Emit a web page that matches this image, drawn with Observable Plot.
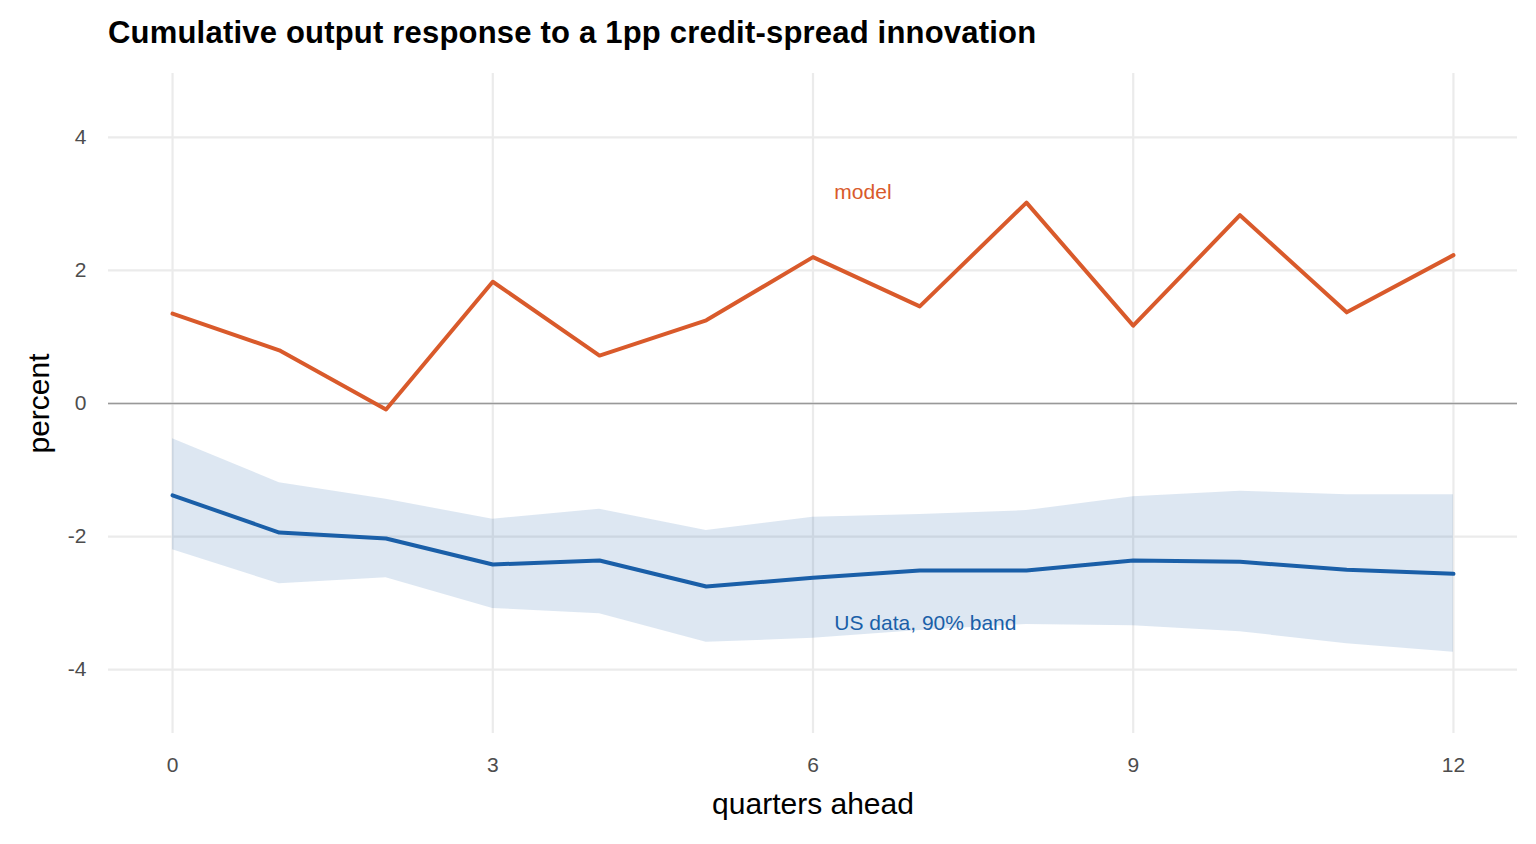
<!DOCTYPE html>
<html><head><meta charset="utf-8">
<script src="https://cdn.jsdelivr.net/npm/d3@7"></script>
<script src="https://cdn.jsdelivr.net/npm/@observablehq/plot@0.6"></script>
<style>
body{margin:0;background:#fff;font-family:"Liberation Sans",Arial,sans-serif}
#title{height:70px;box-sizing:border-box;padding:15px 0 0 108px;font-size:31px;font-weight:bold;color:#000;letter-spacing:0.2px;white-space:nowrap}
</style></head><body>
<div id="title">Cumulative output response to a 1pp credit-spread innovation</div>
<div id="chart"></div>
<script>
const quarters = [0,1,2,3,4,5,6,7,8,9,10,11,12];
const model = [1.35,0.80,-0.09,1.83,0.72,1.25,2.20,1.46,3.02,1.17,2.83,1.37,2.23];
const usData = [-1.38,-1.94,-2.03,-2.42,-2.36,-2.75,-2.62,-2.51,-2.51,-2.36,-2.38,-2.50,-2.56];
const usUpper = [-0.53,-1.19,-1.44,-1.74,-1.59,-1.91,-1.71,-1.67,-1.61,-1.40,-1.32,-1.37,-1.37];
const usLower = [-2.20,-2.71,-2.62,-3.08,-3.16,-3.59,-3.53,-3.41,-3.32,-3.34,-3.43,-3.61,-3.74];
const xTicks = [0,3,6,9,12];
const yTicks = [-4,-2,0,2,4];
const labels = [{x:6.2,y:3.18,t:"model",c:"#d95a2b"},{x:6.2,y:-3.3,t:"US data, 90% band",c:"#1a5fa8"}];

const rows = quarters.map((q,i)=>({q,model:model[i],us:usData[i],lo:usLower[i],hi:usUpper[i]}));
const chart = Plot.plot({
  width:1536, height:774,
  marginLeft:108, marginRight:19, marginTop:3, marginBottom:111,
  style:{fontFamily:"Liberation Sans, Arial, sans-serif", background:"#fff"},
  x:{domain:[-0.6,12.6], axis:null},
  y:{domain:[-4.96,4.96], axis:null},
  marks:[
    Plot.gridX(xTicks,{stroke:"#ebebeb",strokeOpacity:1,strokeWidth:2.2}),
    Plot.gridY(yTicks,{stroke:"#ebebeb",strokeOpacity:1,strokeWidth:2.2}),
    Plot.ruleY([0],{stroke:"#999",strokeWidth:1.6}),
    Plot.areaY(rows,{x:"q",y1:"lo",y2:"hi",fill:"#1a5fa8",fillOpacity:0.15}),
    Plot.line(rows,{x:"q",y:"us",stroke:"#1a5fa8",strokeWidth:4}),
    Plot.line(rows,{x:"q",y:"model",stroke:"#d95a2b",strokeWidth:4}),
    Plot.text(labels,{x:"x",y:"y",text:"t",fill:"c",textAnchor:"start",fontSize:21}),
    Plot.text(xTicks,{x:d=>d,y:-5.44,text:d=>String(d),fontSize:21,fill:"#4d4d4d",clip:false}),
    Plot.text(yTicks,{x:-0.6,y:d=>d,dx:-22,text:d=>String(d),textAnchor:"end",fontSize:21,fill:"#4d4d4d",clip:false}),
    Plot.text(["quarters ahead"],{x:6,y:-6.02,fontSize:30,fill:"#000",clip:false}),
    Plot.text(["percent"],{x:-1.25,y:0,rotate:-90,fontSize:30,fill:"#000",clip:false})
  ]
});
chart.style.overflow="visible";
document.getElementById("chart").appendChild(chart);
</script></body></html>
